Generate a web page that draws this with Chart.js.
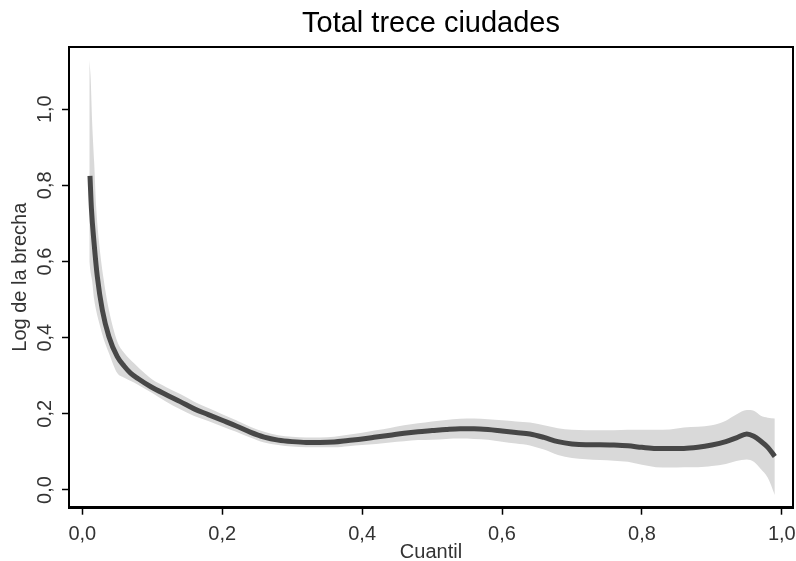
<!DOCTYPE html>
<html>
<head>
<meta charset="utf-8">
<title>Total trece ciudades</title>
<script src="https://cdn.jsdelivr.net/npm/chart.js@4/dist/chart.umd.min.js"></script>
<style>
  body { margin: 0; background: #fff; }
  #wrap { width: 796px; height: 561px; }
</style>
</head>
<body>
<div id="wrap"><canvas id="grafico" width="796" height="561"></canvas></div>
<script>
// Cuantiles y log de la brecha (línea central)
const cuantiles = [0.011, 0.013, 0.017, 0.0215, 0.0286, 0.038, 0.050, 0.060, 0.069, 0.080,
  0.098, 0.120, 0.140,
  0.160, 0.180, 0.200, 0.220, 0.240, 0.260, 0.280, 0.300, 0.320, 0.340,
  0.360, 0.380, 0.400, 0.420, 0.440, 0.460, 0.480, 0.500, 0.520, 0.540,
  0.560, 0.580, 0.600, 0.620, 0.640, 0.660, 0.680, 0.700, 0.720, 0.740,
  0.760, 0.780, 0.800, 0.820, 0.840, 0.860, 0.880, 0.900, 0.920, 0.935,
  0.950, 0.960, 0.970, 0.980, 0.990];
const brecha = [0.825, 0.74, 0.645, 0.56, 0.473, 0.403, 0.35, 0.325, 0.307, 0.292,
  0.271, 0.25, 0.232,
  0.213, 0.198, 0.183, 0.168, 0.152, 0.139, 0.131, 0.127, 0.125, 0.125,
  0.126, 0.130, 0.134, 0.139, 0.144, 0.149, 0.153, 0.156, 0.159, 0.161,
  0.161, 0.159, 0.155, 0.151, 0.147, 0.138, 0.127, 0.121, 0.119, 0.119,
  0.118, 0.116, 0.112, 0.109, 0.109, 0.109, 0.112, 0.118, 0.127, 0.137,
  0.147, 0.141, 0.128, 0.112, 0.088];

// Intervalo de confianza
const bandaX = [0.010, 0.012, 0.014, 0.017, 0.020, 0.024, 0.030, 0.038, 0.050, 0.060,
  0.074, 0.090, 0.100, 0.120, 0.140, 0.160, 0.180, 0.200, 0.220,
  0.240, 0.260, 0.280, 0.300, 0.320, 0.340, 0.360, 0.380, 0.400, 0.420,
  0.440, 0.460, 0.480, 0.500, 0.520, 0.540, 0.560, 0.580, 0.600, 0.620,
  0.640, 0.660, 0.680, 0.700, 0.720, 0.740, 0.760, 0.780, 0.800, 0.820,
  0.840, 0.860, 0.880, 0.900, 0.920, 0.935, 0.950, 0.960, 0.970, 0.980, 0.990];
const bandaSup = [1.13, 1.08, 0.97, 0.86, 0.74, 0.65, 0.56, 0.473, 0.39, 0.36,
  0.333, 0.305, 0.29, 0.27, 0.252, 0.232, 0.215, 0.199, 0.183,
  0.166, 0.153, 0.144, 0.140, 0.138, 0.138, 0.140, 0.145, 0.150, 0.157,
  0.163, 0.170, 0.175, 0.180, 0.184, 0.187, 0.188, 0.186, 0.183, 0.180,
  0.177, 0.170, 0.162, 0.158, 0.157, 0.157, 0.157, 0.158, 0.158, 0.158,
  0.159, 0.164, 0.166, 0.170, 0.182, 0.198, 0.210, 0.208, 0.195, 0.190, 0.188];
const bandaInf = [0.60, 0.57, 0.55, 0.50, 0.47, 0.44, 0.40, 0.36, 0.307, 0.295,
  0.282, 0.265, 0.255, 0.232, 0.212, 0.194, 0.181, 0.167, 0.153,
  0.138, 0.125, 0.118, 0.114, 0.112, 0.112, 0.112, 0.115, 0.118, 0.121,
  0.125, 0.128, 0.131, 0.132, 0.134, 0.135, 0.134, 0.132, 0.127, 0.122,
  0.117, 0.106, 0.092, 0.084, 0.081, 0.079, 0.077, 0.074, 0.066, 0.060,
  0.059, 0.060, 0.060, 0.063, 0.068, 0.076, 0.080, 0.074, 0.055, 0.032, -0.013];

// Ejes
const xTicks = [0, 0.2, 0.4, 0.6, 0.8, 1.0];
const xTickLabels = ['0,0', '0,2', '0,4', '0,6', '0,8', '1,0'];
const yTicks = [0, 0.2, 0.4, 0.6, 0.8, 1.0];
const yTickLabels = ['0,0', '0,2', '0,4', '0,6', '0,8', '1,0'];

const fuente = 'Liberation Sans, Arial, Helvetica, sans-serif';

function puntos(xs, ys) {
  return xs.map((x, i) => ({ x: x, y: ys[i] }));
}

const ctx = document.getElementById('grafico').getContext('2d');

new Chart(ctx, {
  type: 'line',
  data: {
    datasets: [
      {
        label: 'Log de la brecha',
        data: puntos(cuantiles, brecha),
        borderColor: '#474747',
        borderWidth: 5,
        pointRadius: 0,
        fill: false,
        cubicInterpolationMode: 'monotone'
      },
      {
        label: 'IC superior',
        data: puntos(bandaX, bandaSup),
        borderWidth: 0,
        borderColor: 'rgba(0,0,0,0)',
        backgroundColor: '#d9d9d9',
        pointRadius: 0,
        fill: '+1',
        cubicInterpolationMode: 'monotone'
      },
      {
        label: 'IC inferior',
        data: puntos(bandaX, bandaInf),
        borderWidth: 0,
        borderColor: 'rgba(0,0,0,0)',
        pointRadius: 0,
        fill: false,
        cubicInterpolationMode: 'monotone'
      }
    ]
  },
  options: {
    responsive: false,
    animation: false,
    devicePixelRatio: 1,
    layout: { padding: { left: 0, right: 3, top: 0, bottom: 0 } },
    plugins: {
      legend: { display: false },
      tooltip: { enabled: false },
      title: {
        display: true,
        text: 'Total trece ciudades',
        color: '#000',
        fullSize: false,
        font: { family: fuente, size: 29, weight: 'normal' },
        padding: { top: 6.2, bottom: 5.7 }
      }
    },
    scales: {
      x: {
        type: 'linear',
        position: 'bottom',
        min: -0.019,
        max: 1.016,
        afterBuildTicks: s => { s.ticks = xTicks.map(v => ({ value: v })); },
        afterFit: s => { s.height = 53.3; s.paddingLeft = 0; s.paddingRight = 0; },
        ticks: {
          padding: 8,
          color: '#333',
          font: { family: fuente, size: 20 },
          callback: (v, i) => xTickLabels[i]
        },
        grid: { drawOnChartArea: false, tickLength: 7, tickWidth: 1.5, tickColor: '#000' },
        border: { color: '#000', width: 3 },
        title: {
          display: true,
          text: 'Cuantil',
          color: '#333',
          font: { family: fuente, size: 20, lineHeight: 1 },
          padding: { top: 0, bottom: -1.3 }
        }
      },
      y: {
        type: 'linear',
        position: 'left',
        min: -0.0465,
        max: 1.164,
        afterBuildTicks: s => { s.ticks = yTicks.map(v => ({ value: v })); },
        afterFit: s => { s.width = 69; s.paddingTop = 0; s.paddingBottom = 0; },
        ticks: {
          minRotation: 90,
          maxRotation: 90,
          crossAlign: 'center',
          padding: 3,
          color: '#333',
          font: { family: fuente, size: 20 },
          callback: (v, i) => yTickLabels[i]
        },
        grid: { drawOnChartArea: false, tickLength: 7, tickWidth: 1.5, tickColor: '#000' },
        border: { color: '#000', width: 2 },
        title: {
          display: true,
          text: 'Log de la brecha',
          color: '#333',
          font: { family: fuente, size: 20 },
          padding: { top: 8, bottom: 0 }
        }
      },
      x2: {
        type: 'linear',
        position: 'top',
        min: 0,
        max: 1,
        afterFit: s => { s.height = 0; s.paddingLeft = 0; s.paddingRight = 0; },
        ticks: { display: false },
        grid: { display: false },
        border: { color: '#000', width: 2 }
      },
      y2: {
        type: 'linear',
        position: 'right',
        min: 0,
        max: 1,
        afterFit: s => { s.width = 0; s.paddingTop = 0; s.paddingBottom = 0; },
        ticks: { display: false },
        grid: { display: false },
        border: { color: '#000', width: 2 }
      }
    }
  }
});
</script>
</body>
</html>
